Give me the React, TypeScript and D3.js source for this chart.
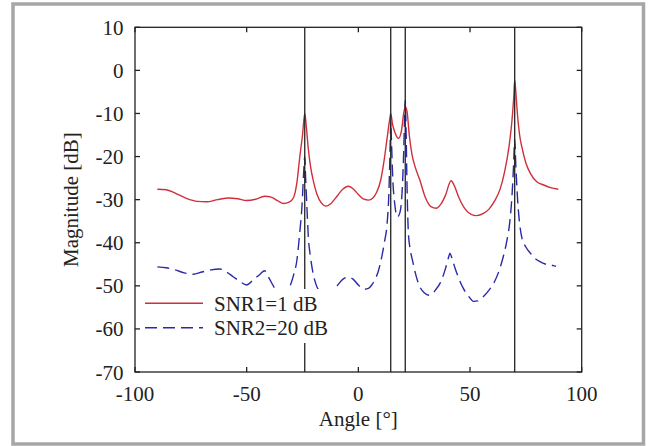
import React from "react";
import * as d3 from "d3";

const xTicks = [-100, -50, 0, 50, 100];
const yTicks = [10, 0, -10, -20, -30, -40, -50, -60, -70];
const markerAngles = [-24, 14.5, 21, 70];
const legendLabels = ["SNR1=1 dB", "SNR2=20 dB"];

const snr1: [number, number][] = [
  [-90, -27.6], [-86, -27.7], [-82, -28.5], [-77, -29.7], [-72, -30.4], [-68, -30.5],
  [-63, -30.0], [-58, -29.6], [-54, -29.8], [-50, -30.2], [-46, -29.9], [-42, -29.2],
  [-39, -29.4], [-36, -30.3], [-33.5, -30.9], [-31, -30.6], [-29, -29.5], [-27.5, -26],
  [-26.2, -20], [-25, -15], [-24, -10], [-23.3, -13], [-22.5, -17.7], [-21.5, -22],
  [-20, -26], [-18.5, -28.8], [-16.5, -30.8], [-14.5, -31.5], [-12.5, -31], [-10, -29.5],
  [-7, -27.6], [-4.5, -26.9], [-2.5, -27.4], [0, -28.8], [2.5, -29.9], [4.5, -30.1],
  [6.5, -29.6], [8.2, -28.3], [10, -25.5], [11.5, -21], [12.8, -16], [14, -11.5],
  [14.5, -10], [15.3, -12.5], [16.5, -14.6], [18, -15.8], [19.3, -14], [20.3, -10],
  [21, -8.4], [21.8, -9.5], [22.8, -15], [24, -19.5], [25.5, -22.5], [27.5, -25.4],
  [30, -29.5], [32.5, -31.6], [35, -32], [37, -31], [39, -29], [41.5, -25.6],
  [43, -26.8], [45, -29.5], [48, -32.3], [50.5, -33.4], [53, -33.7], [56, -33.2],
  [58.5, -32.2], [61, -30.3], [63.5, -27.5], [65.5, -23.5], [67.5, -17.5], [68.8, -11.5],
  [69.6, -6], [70, -2.2], [70.5, -5], [71.2, -10], [72.2, -15], [73.3, -18],
  [75, -21.5], [77, -23.9], [80, -25.9], [83, -26.6], [86, -27.2], [89.5, -27.6],
];

const snr2: [number, number][] = [
  [-90, -45.6], [-86, -45.8], [-82, -46.3], [-78, -47], [-74, -47.3], [-70, -46.8],
  [-66, -46.3], [-62, -46.1], [-59, -46.8], [-56, -47.9], [-53, -49], [-50, -49.8],
  [-47, -48.6], [-44, -47.3], [-42, -46.5], [-40, -48.2], [-37.5, -50.5], [-35, -51.8],
  [-33, -51.9], [-31, -50.5], [-29, -47.5], [-27.5, -44], [-26.3, -38], [-25.3, -32],
  [-24.3, -22], [-24, -20], [-23.6, -25], [-23, -32], [-22.4, -38.6], [-21.5, -43],
  [-20.5, -46.5], [-19, -49.6], [-17, -51.5], [-14.5, -52.1], [-12, -51.3], [-9.5, -50],
  [-7, -48.5], [-4.5, -48], [-2.5, -48.4], [0, -49.8], [2.5, -50.8], [4.5, -50.6],
  [6, -49.8], [7.5, -48.5], [9, -46.5], [10.5, -43.2], [11.8, -39.5], [12.8, -36],
  [13.7, -28], [14.3, -16], [14.5, -12], [14.8, -16], [15.4, -25], [16.3, -31],
  [17.5, -34], [18.6, -33], [19.5, -29], [20.3, -19], [20.8, -9], [21, -6.9],
  [21.3, -12], [21.8, -27], [22.4, -37.8], [23.2, -41.5], [24.2, -44], [25.5, -47],
  [27, -49.6], [29.5, -51.6], [32, -52.2], [34.5, -51], [36.8, -49.2], [39, -46],
  [40.5, -43.2], [41, -42.4], [42, -43.8], [43.3, -45.9], [45, -48.3], [47, -50.6],
  [49.5, -52.5], [51.5, -53.6], [53.5, -53.5], [56, -52.5], [58.5, -51], [61, -49],
  [63, -46.5], [64.9, -43.2], [66.5, -39.5], [67.9, -34.7], [68.8, -29], [69.5, -22],
  [70, -16], [70.5, -22], [71.3, -30], [72.2, -35.5], [73.1, -38.6], [75, -41],
  [77, -42.4], [79, -43.6], [81.3, -44.4], [84, -45], [87.3, -45.3], [88.5, -45.5],
];

const W = 654;
const H = 446;
const L = 135;
const R = 581.7;
const T = 27.3;
const B = 372;
const FONT = "'Liberation Serif', 'Times New Roman', serif";
const FS = 21;
const RED = "#cf2f3a";
const BLUE = "#2a2aa6";

export default function App() {
  const x = d3.scaleLinear().domain([-100, 100]).range([L, R]);
  const y = d3.scaleLinear().domain([-70, 10]).range([B, T]);
  const line = d3
    .line<[number, number]>()
    .x((d) => x(d[0]))
    .y((d) => y(d[1]))
    .curve(d3.curveMonotoneX);
  const tl = 5;

  return (
    <svg
      width={W}
      height={H}
      style={{ position: "absolute", left: 0, top: 0, background: "#fff" }}
      fontFamily={FONT}
    >
      <rect x={13} y={4} width={630.5} height={440} fill="#fff" stroke="#a6a6a6" strokeWidth={3.5} />

      <path d={line(snr2) || ""} fill="none" stroke={BLUE} strokeWidth={1.4} strokeDasharray="12,6" />
      <path d={line(snr1) || ""} fill="none" stroke={RED} strokeWidth={1.4} />

      {markerAngles.map((a) => (
        <line key={a} x1={x(a)} x2={x(a)} y1={T} y2={B} stroke="#222" strokeWidth={1.3} />
      ))}

      {/* legend */}
      <rect x={140} y={289} width={198} height={54} fill="#fff" />
      <line x1={145} x2={203} y1={303.3} y2={303.3} stroke={RED} strokeWidth={1.4} />
      <line x1={145} x2={203} y1={327.7} y2={327.7} stroke={BLUE} strokeWidth={1.4} strokeDasharray="12,6" />
      <text x={214} y={310.5} fontSize={FS} fill="#222">{legendLabels[0]}</text>
      <text x={214} y={335} fontSize={FS} fill="#222">{legendLabels[1]}</text>

      {/* frame */}
      <rect x={L} y={T} width={R - L} height={B - T} fill="none" stroke="#222" strokeWidth={1.3} />

      {xTicks.map((t) => (
        <g key={"x" + t}>
          <line x1={x(t)} x2={x(t)} y1={B} y2={B - tl} stroke="#222" strokeWidth={1.3} />
          <line x1={x(t)} x2={x(t)} y1={T} y2={T + tl} stroke="#222" strokeWidth={1.3} />
          <text x={x(t)} y={401} fontSize={FS} textAnchor="middle" fill="#222">
            {t}
          </text>
        </g>
      ))}
      {yTicks.map((t) => (
        <g key={"y" + t}>
          <line x1={L} x2={L + tl} y1={y(t)} y2={y(t)} stroke="#222" strokeWidth={1.3} />
          <line x1={R} x2={R - tl} y1={y(t)} y2={y(t)} stroke="#222" strokeWidth={1.3} />
          <text x={123.5} y={y(t) + 7.5} fontSize={FS} textAnchor="end" fill="#222">
            {t}
          </text>
        </g>
      ))}

      <text x={(L + R) / 2} y={425.5} fontSize={FS} textAnchor="middle" fill="#222">
        Angle [°]
      </text>
      <text
        transform={`translate(77.5,${(T + B) / 2}) rotate(-90)`}
        fontSize={FS}
        textAnchor="middle"
        fill="#222"
      >
        Magnitude [dB]
      </text>
    </svg>
  );
}
